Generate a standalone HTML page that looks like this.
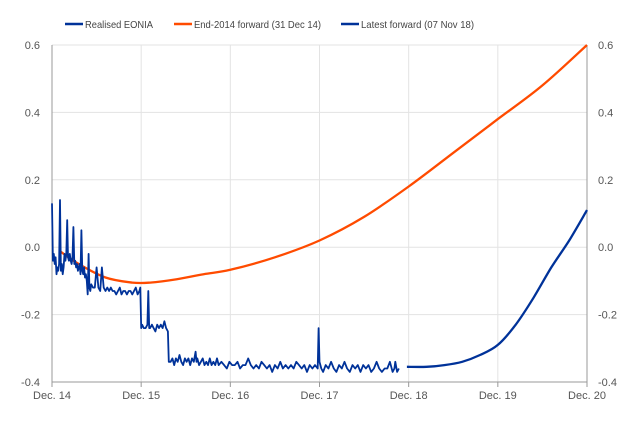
<!DOCTYPE html>
<html><head><meta charset="utf-8"><style>
body{margin:0;background:#fff;font-family:"Liberation Sans",Arial,sans-serif;}
svg text{font-family:"Liberation Sans",Arial,sans-serif;}
</style></head><body>
<svg id="chart" width="632" height="427" viewBox="0 0 632 427"></svg>
<script>
// years since Dec 2014
const eoniaT=[0,0.01,0.02,0.03,0.04,0.05,0.06,0.07,0.08,0.09,0.1,0.11,0.12,0.13,0.14,0.15,0.16,0.17,0.18,0.19,0.2,0.21,0.22,0.23,0.24,0.25,0.26,0.27,0.28,0.29,0.3,0.31,0.32,0.33,0.34,0.35,0.36,0.37,0.38,0.39,0.4,0.41,0.42,0.43,0.44,0.46,0.48,0.5,0.52,0.54,0.56,0.58,0.6,0.62,0.64,0.66,0.68,0.7,0.72,0.74,0.76,0.78,0.8,0.82,0.84,0.86,0.88,0.9,0.92,0.94,0.96,0.98,0.99,1.0,1.01,1.03,1.05,1.07,1.08,1.09,1.1,1.12,1.14,1.16,1.18,1.2,1.22,1.24,1.26,1.28,1.3,1.31,1.33,1.35,1.37,1.39,1.41,1.43,1.45,1.47,1.49,1.51,1.53,1.55,1.57,1.59,1.61,1.62,1.63,1.65,1.67,1.69,1.71,1.73,1.75,1.77,1.79,1.81,1.83,1.85,1.87,1.9,1.93,1.96,1.99,2.02,2.05,2.08,2.11,2.14,2.17,2.2,2.23,2.26,2.29,2.32,2.35,2.38,2.41,2.44,2.47,2.5,2.53,2.56,2.59,2.62,2.65,2.68,2.71,2.74,2.77,2.8,2.83,2.86,2.89,2.92,2.95,2.98,2.99,3.0,3.01,3.02,3.04,3.07,3.1,3.13,3.16,3.19,3.22,3.25,3.28,3.31,3.34,3.37,3.4,3.43,3.46,3.49,3.52,3.55,3.58,3.61,3.64,3.67,3.7,3.73,3.76,3.79,3.82,3.84,3.85,3.87,3.89,3.9,3.91,3.93];
const eoniaV=[0.13,-0.04,-0.02,-0.05,-0.03,-0.08,-0.06,-0.07,-0.05,0.14,-0.07,-0.05,-0.08,-0.06,-0.02,-0.04,-0.02,0.08,-0.03,-0.04,-0.02,-0.04,-0.05,-0.03,0.06,-0.05,-0.04,-0.06,-0.05,-0.07,-0.06,-0.05,-0.08,0.05,-0.07,-0.08,-0.06,-0.09,-0.08,-0.10,-0.14,-0.02,-0.12,-0.13,-0.11,-0.12,-0.12,-0.06,-0.12,-0.13,-0.06,-0.12,-0.13,-0.12,-0.13,-0.12,-0.13,-0.13,-0.14,-0.13,-0.12,-0.14,-0.13,-0.13,-0.14,-0.13,-0.13,-0.14,-0.13,-0.12,-0.14,-0.13,-0.12,-0.24,-0.23,-0.24,-0.24,-0.23,-0.13,-0.24,-0.24,-0.23,-0.24,-0.25,-0.23,-0.24,-0.23,-0.24,-0.22,-0.24,-0.25,-0.34,-0.34,-0.33,-0.35,-0.33,-0.34,-0.32,-0.34,-0.35,-0.33,-0.34,-0.33,-0.35,-0.33,-0.34,-0.31,-0.34,-0.33,-0.35,-0.34,-0.33,-0.35,-0.34,-0.35,-0.33,-0.35,-0.34,-0.35,-0.33,-0.35,-0.34,-0.35,-0.36,-0.34,-0.35,-0.35,-0.34,-0.36,-0.35,-0.35,-0.33,-0.35,-0.36,-0.35,-0.36,-0.34,-0.35,-0.36,-0.35,-0.37,-0.35,-0.36,-0.34,-0.36,-0.35,-0.36,-0.35,-0.36,-0.34,-0.35,-0.36,-0.35,-0.37,-0.35,-0.36,-0.35,-0.36,-0.24,-0.34,-0.35,-0.36,-0.37,-0.35,-0.36,-0.34,-0.36,-0.37,-0.35,-0.36,-0.34,-0.36,-0.37,-0.35,-0.36,-0.35,-0.37,-0.35,-0.36,-0.35,-0.37,-0.36,-0.34,-0.36,-0.37,-0.36,-0.36,-0.34,-0.37,-0.36,-0.34,-0.37,-0.36];
const fwd14T=[0.08,0.3,0.6,0.9,1.1,1.4,1.7,2.0,2.5,3.0,3.5,4.0,4.5,5.0,5.5,6.0];
const fwd14V=[-0.01,-0.05,-0.09,-0.105,-0.105,-0.095,-0.08,-0.067,-0.03,0.02,0.09,0.18,0.28,0.38,0.48,0.6];
const fwd18T=[3.98,4.2,4.4,4.6,4.8,5.0,5.2,5.4,5.6,5.8,6.0];
const fwd18V=[-0.355,-0.355,-0.35,-0.34,-0.32,-0.29,-0.23,-0.15,-0.06,0.02,0.11];
const xTicks=["Dec. 14","Dec. 15","Dec. 16","Dec. 17","Dec. 18","Dec. 19","Dec. 20"];
const yTicks=[0.6,0.4,0.2,0.0,-0.2,-0.4];
const yTickLabels=["0.6","0.4","0.2","0.0","-0.2","-0.4"];

const svg=document.getElementById('chart');
const NS='http://www.w3.org/2000/svg';
const x0=52,x1=587,yTop=45,yBot=382;
const X=t=>x0+t*(x1-x0)/6;
const Y=v=>yBot-(v+0.4)*(yBot-yTop)/1.0;
function mk(tag,attrs,parent){const e=document.createElementNS(NS,tag);for(const k in attrs)e.setAttribute(k,attrs[k]);(parent||svg).appendChild(e);return e;}

const grid=mk('g',{});


yTicks.forEach((v,i)=>{
  const l=mk('line',{x1:x0,x2:x1,y1:Y(v),y2:Y(v),stroke:'#e3e3e3','stroke-width':1},grid);
  
  
  const a=mk('text',{x:40,y:Y(v)+4,'text-anchor':'end','font-size':11,fill:'#555'});
  a.textContent=yTickLabels[i];
  
  
  const b=mk('text',{x:598,y:Y(v)+4,'text-anchor':'start','font-size':11,fill:'#555'});
  b.textContent=yTickLabels[i];
  
  
});
xTicks.forEach((s,i)=>{
  if(i>0&&i<6){const l=mk('line',{x1:X(i),x2:X(i),y1:yTop,y2:yBot,stroke:'#e3e3e3','stroke-width':1},grid);
  
  }
  const tk=mk('line',{x1:X(i),x2:X(i),y1:yBot,y2:yBot+5,stroke:'#999'});
  
  
  const t=mk('text',{x:X(i),y:yBot+17,'text-anchor':'middle','font-size':11,fill:'#555'});
  t.textContent=s;
  
  
});
const ax=mk('path',{d:`M${x0},${yTop}V${yBot}H${x1}V${yTop}`,fill:'none',stroke:'#999','stroke-width':1});



function pts(T,V){return T.map((t,i)=>[X(t),Y(V[i])]);}
function smoothD(P){
  let d='M'+P[0][0].toFixed(1)+','+P[0][1].toFixed(1);
  for(let i=0;i<P.length-1;i++){
    const p0=P[i-1]||P[i],p1=P[i],p2=P[i+1],p3=P[i+2]||P[i+1];
    const c1=[p1[0]+(p2[0]-p0[0])/6,p1[1]+(p2[1]-p0[1])/6];
    const c2=[p2[0]-(p3[0]-p1[0])/6,p2[1]-(p3[1]-p1[1])/6];
    d+=`C${c1[0].toFixed(1)},${c1[1].toFixed(1)} ${c2[0].toFixed(1)},${c2[1].toFixed(1)} ${p2[0].toFixed(1)},${p2[1].toFixed(1)}`;
  }
  return d;
}
function line(d,color,w,name){
  const p=mk('path',{d:d,fill:'none',stroke:color,'stroke-width':w,'stroke-linejoin':'round'});
  
  
}
line(smoothD(pts(fwd14T,fwd14V)),'#ff4b00',2.3,'end-2014-forward-line');
line(pts(eoniaT,eoniaV).map((p,i)=>(i?'L':'M')+p[0].toFixed(1)+','+p[1].toFixed(1)).join(''),'#003299',1.8,'realised-eonia-line');
line(smoothD(pts(fwd18T,fwd18V)),'#003299',2.3,'latest-forward-line');

const leg=[["Realised EONIA",'#003299',85,68],["End-2014 forward (31 Dec 14)",'#ff4b00',194,127],["Latest forward (07 Nov 18)",'#003299',361,113]];
leg.forEach(([s,c,x,w])=>{
  const g=mk('g',{});
  
  
  mk('line',{x1:x-20,x2:x-2,y1:24,y2:24,stroke:c,'stroke-width':2.5},g);
  const t=mk('text',{x:x,y:28,'font-size':10.5,fill:'#444',textLength:w,lengthAdjust:'spacingAndGlyphs'},g);
  t.textContent=s;
});
</script>
</body></html>
